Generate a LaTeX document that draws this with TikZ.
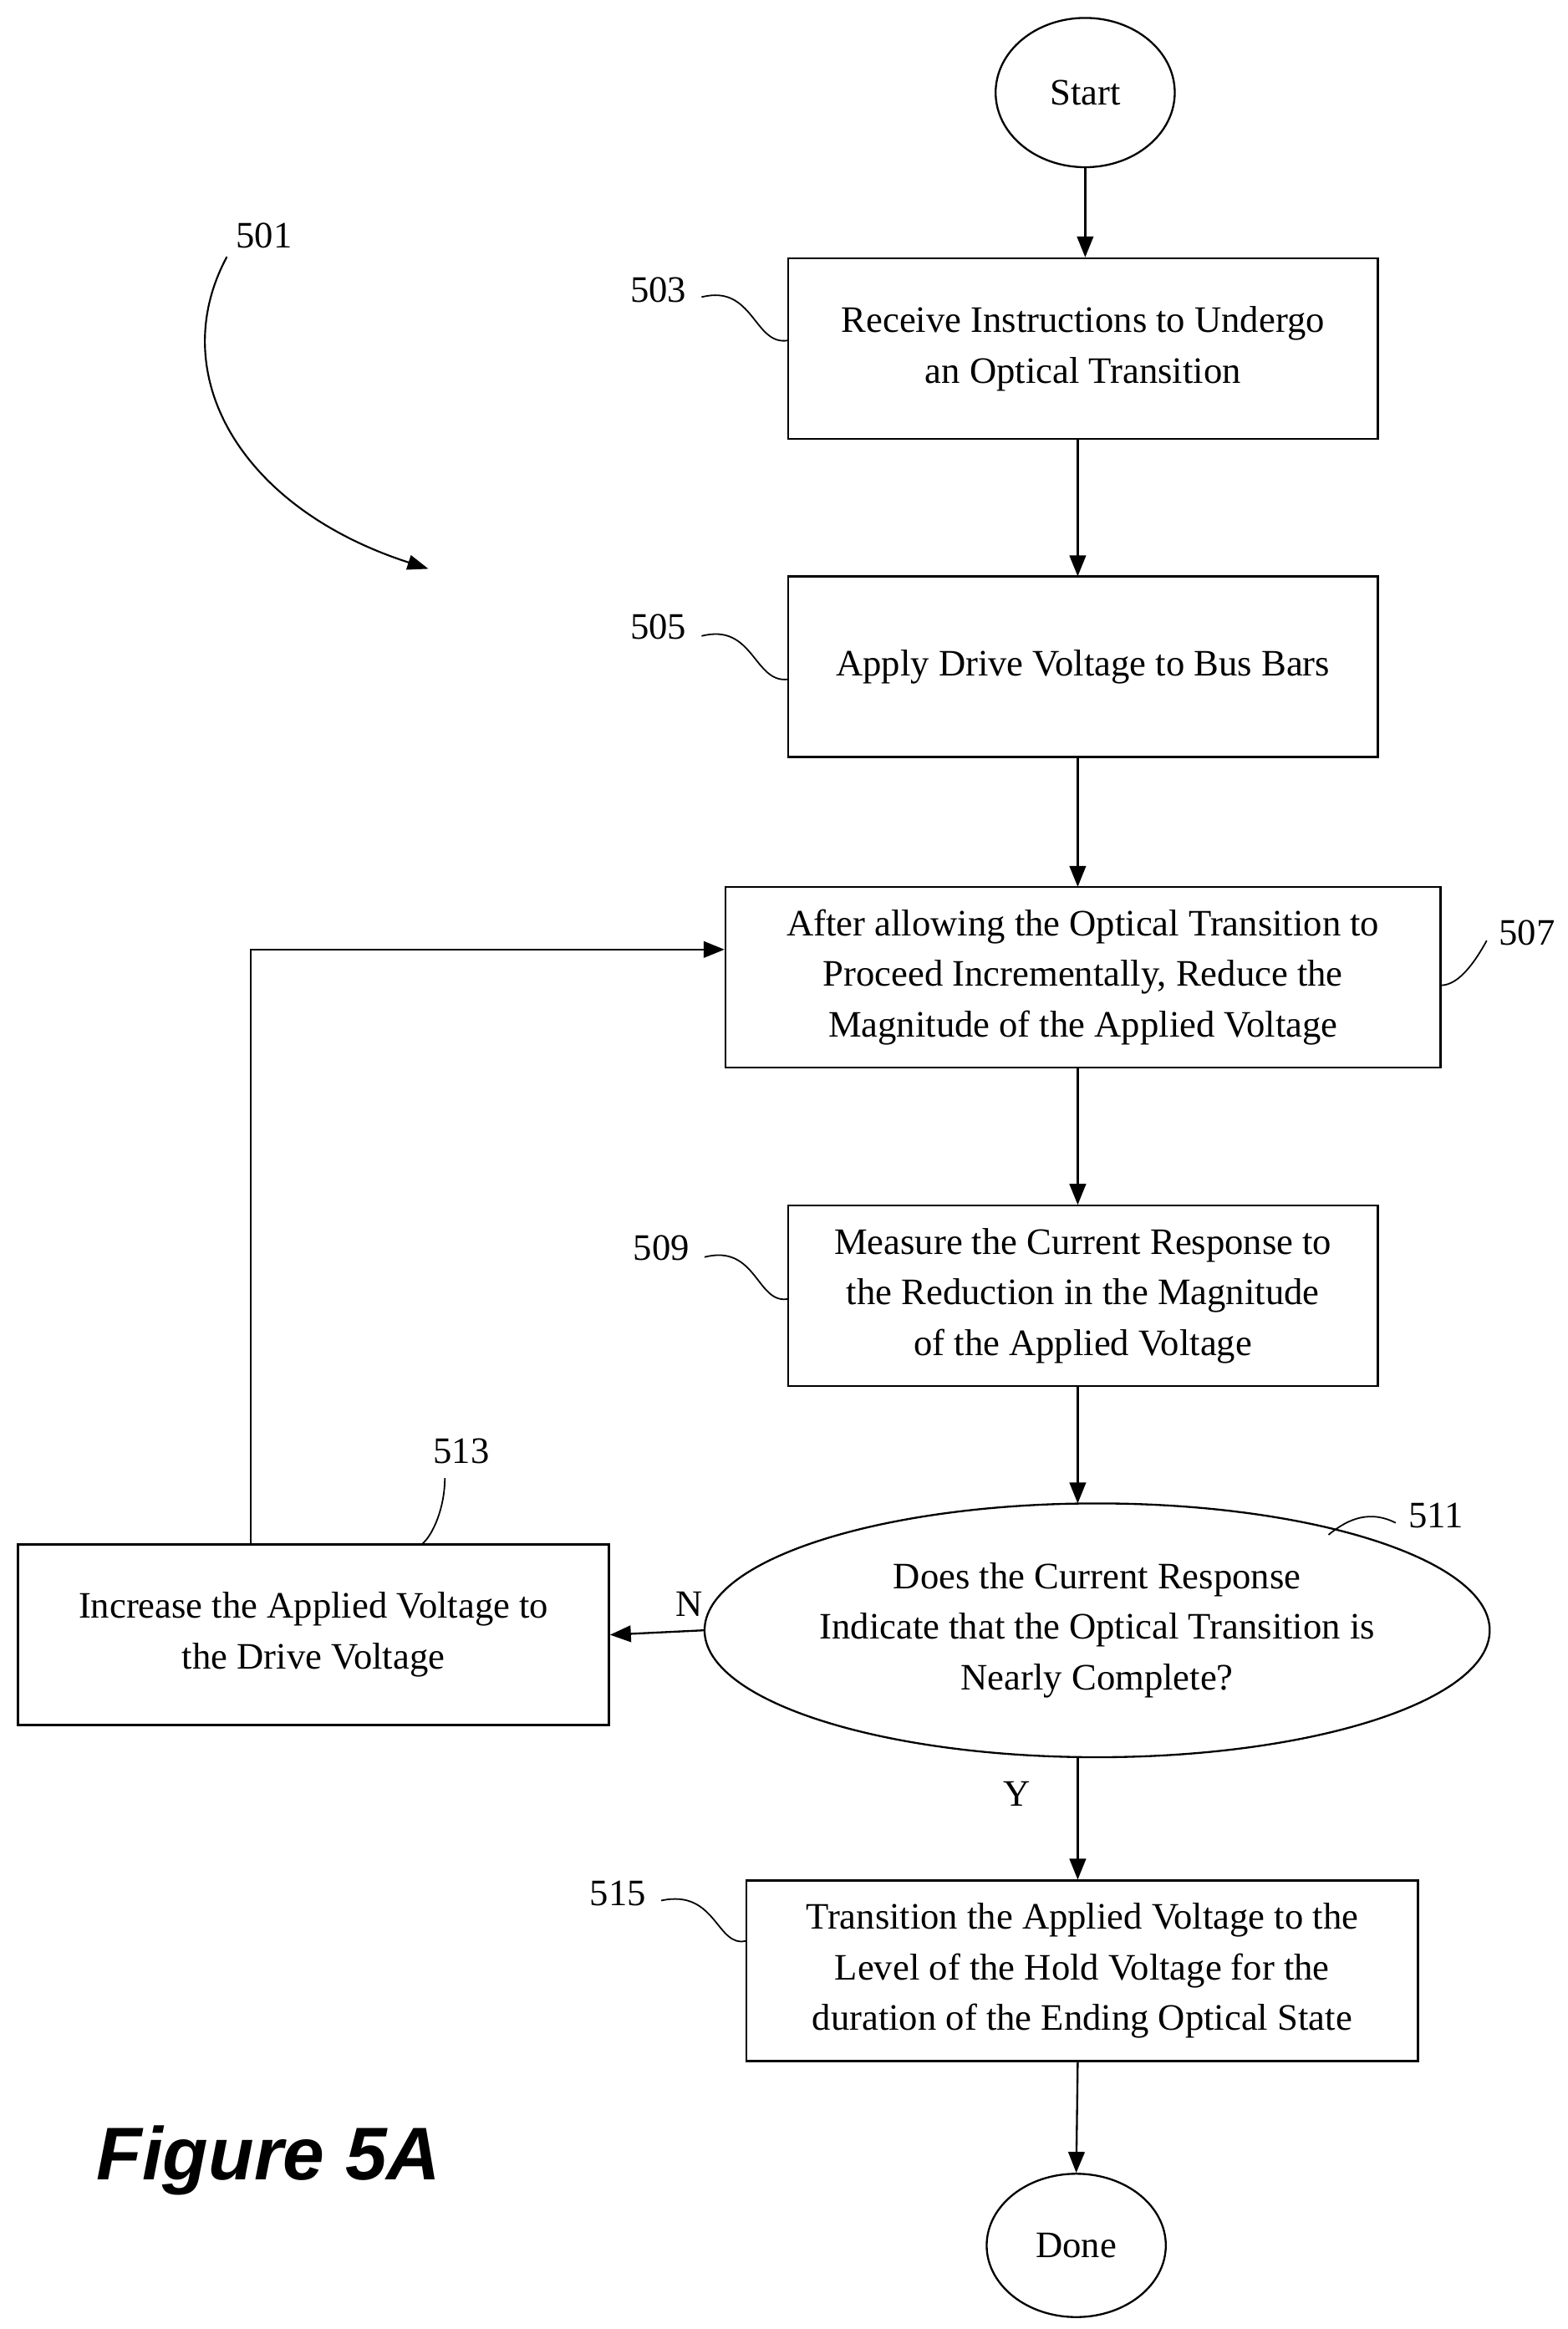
\documentclass[tikz,border=0pt]{standalone}
\usepackage{fontspec}
\setmainfont{Liberation Serif}
\newfontfamily\figfont{Liberation Sans}
\usetikzlibrary{shapes.geometric,arrows.meta}
\begin{document}
\begin{tikzpicture}[x=1pt,y=-1pt,
  box/.style={draw,line width=1.3pt,minimum height=121pt,align=center,font=\fontsize{25}{34}\selectfont,inner sep=0pt},
  ell/.style={draw,ellipse,line width=1.3pt,inner sep=0pt,align=center,font=\fontsize{25}{34}\selectfont},
  arr/.style={line width=1.3pt,-{Triangle[length=14pt,width=11pt]}},
  lbl/.style={font=\fontsize{25}{30}\selectfont},
  sq/.style={line width=1pt}]
\useasboundingbox (0,0) rectangle (1050,1560);
\node[ell,minimum width=120pt,minimum height=100pt] (start) at (727,62) {Start};
\node[box,minimum width=395pt] (b503) at (725.5,233.5) {Receive Instructions to Undergo\\an Optical Transition};
\node[box,minimum width=395pt] (b505) at (725.5,446.5) {Apply Drive Voltage to Bus Bars};
\node[box,minimum width=479pt] (b507) at (725.5,654.5) {After allowing the Optical Transition to\\Proceed Incrementally, Reduce the\\Magnitude of the Applied Voltage};
\node[box,minimum width=395pt] (b509) at (725.5,868) {Measure the Current Response to\\the Reduction in the Magnitude\\of the Applied Voltage};
\node[ell,minimum width=480pt,minimum height=170pt] (d511) at (735,1092) {Does the Current Response\\Indicate that the Optical Transition is\\Nearly Complete?};
\node[box,minimum width=396pt] (b513) at (210,1095) {Increase the Applied Voltage to\\the Drive Voltage};
\node[box,minimum width=450pt] (b515) at (725,1320) {Transition the Applied Voltage to the\\Level of the Hold Voltage for the\\duration of the Ending Optical State};
\node[ell,minimum width=120pt,minimum height=96pt] (done) at (721,1504) {Done};

\draw[arr] (start.south) -- (start.south |- b503.north);
\draw[arr] (722,294) -- (722,386);
\draw[arr] (722,507) -- (722,594);
\draw[arr] (722,715) -- (722,807);
\draw[arr] (722,929) -- (722,1007);
\draw[arr] (d511.west) -- (b513.east) node[pos=0.15,above=6pt,lbl] {N};
\draw[arr] (722,1177) -- (722,1259) node[pos=0.3,left=28pt,lbl] {Y};
\draw[arr] (722,1381) -- (done.north);
\coordinate (c1) at (168,1034);
\coordinate (c2) at (168,636);
\draw[arr] (c1) -- (c2) -- (b507.west |- c2);

\node[lbl] (l501) at (177,158) {501};
\coordinate (a501) at (287,381);
\draw[line width=1.2pt,-{Triangle[length=14pt,width=10pt]}] (152,172) .. controls (110,250) and (160,340) .. (a501);
\node[lbl] (l503) at (441,194) {503};
\draw[sq] (470,199) .. controls (505,190) and (505,232) .. (528,228);
\node[lbl] (l505) at (441,420) {505};
\draw[sq] (470,426) .. controls (505,417) and (505,458) .. (528,455);
\node[lbl] (l507) at (1023,625) {507};
\draw[sq] (996,630) .. controls (985,650) and (975,660) .. (965,660);
\node[lbl] (l509) at (443,836) {509};
\draw[sq] (472,842) .. controls (507,833) and (507,874) .. (528,870);
\node[lbl] (l513) at (309,972) {513};
\draw[sq] (298,990) .. controls (298,1010) and (290,1028) .. (283,1034);
\node[lbl] (l511) at (962,1015) {511};
\draw[sq] (935,1020) .. controls (915,1010) and (900,1020) .. (890,1028);
\node[lbl] (l515) at (414,1268) {515};
\draw[sq] (443,1273) .. controls (480,1265) and (480,1305) .. (500,1300);
\node[font=\figfont\bfseries\itshape\fontsize{50}{60}\selectfont] (fig) at (180,1447) {Figure 5A};
\end{tikzpicture}
\end{document}
